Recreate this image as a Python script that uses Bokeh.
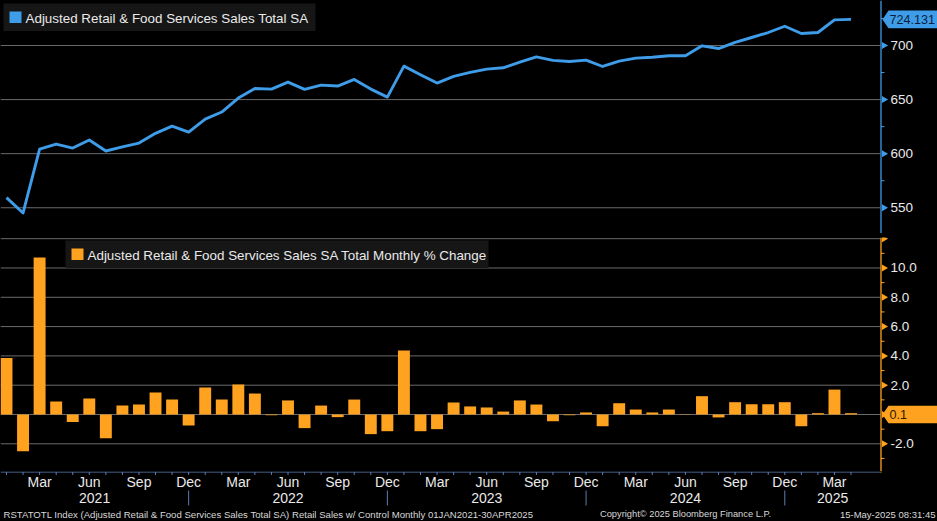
import numpy as np
from bokeh.plotting import figure
from bokeh.layouts import column
from bokeh.models import Range1d, ColumnDataSource
from bokeh.embed import file_html
from bokeh.resources import INLINE
from bokeh.core.properties import value

# ---------------- data ----------------
years = [2021, 2022, 2023, 2024, 2025]
month_abbr = ["Jan", "Feb", "Mar", "Apr", "May", "Jun",
              "Jul", "Aug", "Sep", "Oct", "Nov", "Dec"]
n_months = 52  # Jan 2021 .. Apr 2025

sales_total = [559.4, 545.2, 604.3, 608.9, 605.2, 612.6, 602.5, 606.2, 609.8, 618.8, 625.5, 620.0,
               632.0, 638.5, 651.4, 660.3, 659.7, 666.2, 659.4, 663.4, 662.5, 668.6, 659.7, 652.3,
               680.9, 672.9, 665.3, 671.4, 675.1, 678.2, 679.4, 684.6, 689.5, 686.2, 685.2, 686.5,
               680.6, 685.5, 688.3, 689.2, 690.5, 690.5, 699.7, 697.2, 702.8, 707.4, 712.0, 717.8,
               711.1, 712.0, 723.7, 724.131]

pct_change = [3.85, -2.5, 10.72, 0.89, -0.52, 1.09, -1.62, 0.61, 0.68, 1.50, 1.02, -0.75,
              1.84, 1.02, 2.05, 1.43, -0.05, 0.96, -0.93, 0.61, -0.18, 1.02, -1.34, -1.14,
              4.37, -1.14, -1.0, 0.82, 0.55, 0.48, 0.2, 0.96, 0.68, -0.46, -0.05, 0.14,
              -0.8, 0.77, 0.34, 0.14, 0.34, 0.02, 1.25, -0.2, 0.84, 0.7, 0.7, 0.84,
              -0.8, 0.09, 1.7, 0.09]

top_ticks = [550, 600, 650, 700]
top_tick_labels = ["550", "600", "650", "700"]
top_minor = [575, 625, 675, 725]
bot_ticks = [-2, 0, 2, 4, 6, 8, 10, 12]
bot_tick_labels = ["-2.0", "", "2.0", "4.0", "6.0", "8.0", "10.0", ""]
bot_minor = [-3, -1, 1, 3, 5, 7, 9, 11]

year_label_pos = [5.32, 17.0, 29.0, 41.0, 49.89]
year_sep_pos = [11, 23, 35, 47]

title_top = "Adjusted Retail & Food Services Sales Total SA"
title_bot = "Adjusted Retail & Food Services Sales SA Total Monthly % Change"
footer_left = ("RSTATOTL Index (Adjusted Retail & Food Services Sales Total SA) "
               "Retail Sales w/ Control  Monthly 01JAN2021-30APR2025")
footer_mid = "Copyright\u00a9 2025 Bloomberg Finance L.P."
footer_right = "15-May-2025 08:31:45"

# ---------------- style / geometry ----------------
BLUE = "#3e9ce8"
ORANGE = "#ffa21f"
GRID = "#6a6a6a"
AXIS_X = "#5d7cb5"
TXT = "#eaeaea"
LEG_BG = "#161616"
FONT = "Liberation Sans"
W_ALL = 937
AX_PX = 880          # pixel position of the right value axis
H_TOP = 233
H_BOT = 234
H_AX = 50
X0, X880 = -0.362, 52.78   # month index at pixel 0 and at pixel 880


def px_to_x(px):
    return X0 + px / AX_PX * (X880 - X0)


xr = Range1d(X0, px_to_x(W_ALL))

x_idx = list(range(n_months))
src = ColumnDataSource(dict(x=x_idx, sales=sales_total, pct=pct_change))


def make_fig(h, yr):
    p = figure(width=W_ALL, height=h, x_range=xr, y_range=yr,
               x_axis_location=None, y_axis_location=None,
               output_backend="svg", toolbar_location=None, min_border=0)
    p.background_fill_color = "black"
    p.border_fill_color = "black"
    p.outline_line_color = None
    p.grid.visible = False
    return p


def per_px(yr, h):
    return (yr.end - yr.start) / h


def py_to_y(yr, h, py):
    return yr.end - py * per_px(yr, h)


def value_axis(p, yr, h, color, ticks, labels, minor, grid_ticks):
    gx0, gx1 = px_to_x(0), px_to_x(AX_PX)
    ax = px_to_x(AX_PX + 0.5)
    # grid lines
    p.segment(x0=[gx0] * len(grid_ticks), x1=[gx1] * len(grid_ticks),
              y0=grid_ticks, y1=grid_ticks, line_color=GRID, line_width=1)
    # axis line
    p.segment(x0=[ax], x1=[ax], y0=[yr.start], y1=[yr.end], line_color=color, line_width=1.3)
    # major ticks (small right-pointing triangles)
    p.scatter(x=[px_to_x(AX_PX + 3.5)] * len(ticks), y=ticks, marker="triangle",
              size=7, angle=-np.pi / 2, fill_color=color, line_color=None)
    # minor ticks
    mt = [m for m in minor if yr.start < m < yr.end]
    p.segment(x0=[ax] * len(mt), x1=[px_to_x(AX_PX + 4)] * len(mt), y0=mt, y1=mt,
              line_color=color, line_width=1)
    # labels
    p.text(x=[px_to_x(AX_PX + 10)] * len(ticks), y=ticks, text=labels,
           text_align="left", text_baseline="middle", text_font=value(FONT),
           text_font_size="13.5px", text_color=TXT)


def value_tag(p, yr, h, yv, text, bg, fg):
    d = 8.8 * per_px(yr, h)
    xs = [px_to_x(AX_PX + 2), px_to_x(AX_PX + 8), px_to_x(W_ALL + 2),
          px_to_x(W_ALL + 2), px_to_x(AX_PX + 8)]
    ys = [yv, yv + d, yv + d, yv - d, yv - d]
    p.patch(x=xs, y=ys, fill_color=bg, line_color=None)
    p.text(x=[px_to_x(AX_PX + 9)], y=[yv], text=[text], text_align="left",
           text_baseline="middle", text_font=value(FONT), text_font_size="12.6px",
           text_color=fg)


def add_legend(p, yr, h, left, right, color, label):
    p.quad(left=[px_to_x(left)], right=[px_to_x(right)],
           top=[py_to_y(yr, h, 3)], bottom=[py_to_y(yr, h, 30.5)],
           fill_color=LEG_BG, line_color=None)
    p.quad(left=[px_to_x(left + 6)], right=[px_to_x(left + 18)],
           top=[py_to_y(yr, h, 11)], bottom=[py_to_y(yr, h, 22.5)],
           fill_color=color, line_color=None)
    p.text(x=[px_to_x(left + 22)], y=[py_to_y(yr, h, 17.5)], text=[label],
           text_align="left", text_baseline="middle", text_font=value(FONT),
           text_font_size="13.4px", text_color=TXT)


# ---------------- top panel ----------------
yr_top = Range1d(526.2, 741.6)
top = make_fig(H_TOP, yr_top)
value_axis(top, yr_top, H_TOP, BLUE, top_ticks, top_tick_labels, top_minor, top_ticks)
top.line("x", "sales", source=src, line_color=BLUE, line_width=2.9, line_join="round")
add_legend(top, yr_top, H_TOP, 3, 315, BLUE, title_top)
value_tag(top, yr_top, H_TOP, sales_total[-1], f"{sales_total[-1]:.3f}", BLUE, "#0a1f3d")

# ---------------- separator band ----------------
band = figure(width=W_ALL, height=4, x_range=Range1d(0, W_ALL), y_range=Range1d(0, 4),
              x_axis_location=None, y_axis_location=None,
              output_backend="svg", toolbar_location=None, min_border=0)
band.background_fill_color = "#3a3a3a"
band.border_fill_color = "#3a3a3a"
band.outline_line_color = None
band.grid.visible = False
band.segment(x0=[462, 462], y0=[1.2, 2.8], x1=[476, 476], y1=[1.2, 2.8],
             line_color="#a0a0a0", line_width=1)

# ---------------- bottom panel ----------------
yr_bot = Range1d(-3.89, 12.08)
bot = make_fig(H_BOT, yr_bot)
value_axis(bot, yr_bot, H_BOT, ORANGE, bot_ticks, bot_tick_labels, bot_minor, bot_ticks)
bot.vbar(x="x", top="pct", bottom=0, width=0.72, source=src,
         fill_color=ORANGE, line_color=None)
add_legend(bot, yr_bot, H_BOT, 65, 488, ORANGE, title_bot)
value_tag(bot, yr_bot, H_BOT, 0, f"{pct_change[-1]:.1f}", ORANGE, "#2a1a00")

# ---------------- time axis + footer ----------------
ax_src = ColumnDataSource(dict(
    x=x_idx,
    lab=[month_abbr[i % 12] if i % 12 in (2, 5, 8, 11) else "" for i in x_idx]))
axf = make_fig(H_AX, Range1d(0, H_AX))
axf.segment(x0=[px_to_x(0)], x1=[px_to_x(AX_PX)], y0=[H_AX - 0.5], y1=[H_AX - 0.5],
            line_color=AXIS_X, line_width=1.2)
axf.segment(x0=[px_to_x(AX_PX + 0.5)], x1=[px_to_x(AX_PX + 0.5)], y0=[H_AX], y1=[H_AX - 1],
            line_color=ORANGE, line_width=1.3)
axf.segment(x0="x", x1="x", y0=H_AX - 0.5, y1=H_AX - 3.5, source=ax_src,
            line_color=AXIS_X, line_width=1)
axf.text(x="x", y=H_AX - 10, text="lab", source=ax_src, text_align="center",
         text_baseline="middle", text_font=value(FONT), text_font_size="14px",
         text_color=TXT)
axf.segment(x0=year_sep_pos, x1=year_sep_pos, y0=[H_AX - 19] * 4, y1=[H_AX - 34] * 4,
            line_color=AXIS_X, line_width=1)
axf.text(x=year_label_pos, y=[H_AX - 26.5] * 5, text=[str(y) for y in years],
         text_align="center", text_baseline="middle", text_font=value(FONT),
         text_font_size="14px", text_color=TXT)
fy = H_AX - 42.5
for fx, ftxt, al, fs in [(3, footer_left, "left", "9.6px"), (685, footer_mid, "center", "9.3px"),
                         (935, footer_right, "right", "9.5px")]:
    axf.text(x=[px_to_x(fx)], y=[fy], text=[ftxt], text_align=al,
             text_baseline="middle", text_font=value(FONT), text_font_size=fs,
             text_color="#d8d8d8")

layout = column(top, band, bot, axf, spacing=0, styles={"background-color": "black"})

html = file_html(layout, INLINE)
html = html.replace("<head>", "<head><style>html,body{margin:0;padding:0;background:#000;overflow:hidden;}</style>", 1)
open("out.html", "w").write(html)
